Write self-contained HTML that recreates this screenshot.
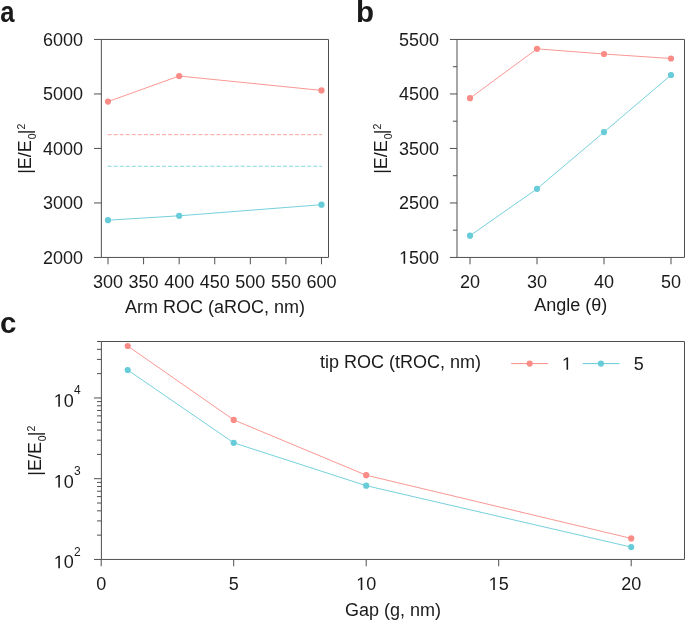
<!DOCTYPE html>
<html><head><meta charset="utf-8"><style>
html,body{margin:0;padding:0;background:#fff;}
body{width:685px;height:620px;overflow:hidden;}
svg{display:block;will-change:transform;font-family:"Liberation Sans",sans-serif;fill:#1a1a1a;}
text{fill:#1a1a1a;}
</style></head><body>
<svg width="685" height="620" viewBox="0 0 685 620">
<rect width="685" height="620" fill="#fff"/>
<line x1="94.00" y1="257.45" x2="101.35" y2="257.45" stroke="#4f4f4f" stroke-width="1" />
<text x="83.10" y="263.75" text-anchor="end" font-size="18">2000</text>
<line x1="94.00" y1="202.95" x2="101.35" y2="202.95" stroke="#4f4f4f" stroke-width="1" />
<text x="83.10" y="209.25" text-anchor="end" font-size="18">3000</text>
<line x1="94.00" y1="148.45" x2="101.35" y2="148.45" stroke="#4f4f4f" stroke-width="1" />
<text x="83.10" y="154.75" text-anchor="end" font-size="18">4000</text>
<line x1="94.00" y1="93.95" x2="101.35" y2="93.95" stroke="#4f4f4f" stroke-width="1" />
<text x="83.10" y="100.25" text-anchor="end" font-size="18">5000</text>
<line x1="94.00" y1="39.45" x2="101.35" y2="39.45" stroke="#4f4f4f" stroke-width="1" />
<text x="83.10" y="45.75" text-anchor="end" font-size="18">6000</text>
<line x1="108.00" y1="257.45" x2="108.00" y2="264.25" stroke="#4f4f4f" stroke-width="1" />
<text x="108.00" y="287.85" text-anchor="middle" font-size="18" font-weight="normal" >300</text>
<line x1="143.58" y1="257.45" x2="143.58" y2="264.25" stroke="#4f4f4f" stroke-width="1" />
<text x="143.58" y="287.85" text-anchor="middle" font-size="18" font-weight="normal" >350</text>
<line x1="179.16" y1="257.45" x2="179.16" y2="264.25" stroke="#4f4f4f" stroke-width="1" />
<text x="179.16" y="287.85" text-anchor="middle" font-size="18" font-weight="normal" >400</text>
<line x1="214.74" y1="257.45" x2="214.74" y2="264.25" stroke="#4f4f4f" stroke-width="1" />
<text x="214.74" y="287.85" text-anchor="middle" font-size="18" font-weight="normal" >450</text>
<line x1="250.32" y1="257.45" x2="250.32" y2="264.25" stroke="#4f4f4f" stroke-width="1" />
<text x="250.32" y="287.85" text-anchor="middle" font-size="18" font-weight="normal" >500</text>
<line x1="285.90" y1="257.45" x2="285.90" y2="264.25" stroke="#4f4f4f" stroke-width="1" />
<text x="285.90" y="287.85" text-anchor="middle" font-size="18" font-weight="normal" >550</text>
<line x1="321.48" y1="257.45" x2="321.48" y2="264.25" stroke="#4f4f4f" stroke-width="1" />
<text x="321.48" y="287.85" text-anchor="middle" font-size="18" font-weight="normal" >600</text>
<path d="M101.35,39.45H328.50V257.45H101.35Z" fill="none" stroke="#4f4f4f" stroke-width="1"/>
<text x="214.93" y="312.90" text-anchor="middle" font-size="18" font-weight="normal" >Arm ROC (aROC, nm)</text>
<text transform="translate(31.10,148.80) rotate(-90)" text-anchor="middle" font-size="18">|E/E<tspan font-size="10.5" dy="5.0" dx="0.9">0</tspan><tspan dy="-5.0" dx="-0.9">|</tspan><tspan font-size="10.5" dy="-6.2">2</tspan></text>
<line x1="107.60" y1="134.66" x2="321.90" y2="134.66" stroke="#FA8C87" stroke-width="1" stroke-dasharray="3.95 2.1" stroke-opacity="0.8"/>
<line x1="107.60" y1="166.27" x2="321.90" y2="166.27" stroke="#67CBD8" stroke-width="1" stroke-dasharray="3.95 2.1" stroke-opacity="0.8"/>
<polyline points="108.00,101.60 179.16,76.00 321.48,90.40" fill="none" stroke="#FA8C87" stroke-width="1.0" stroke-opacity="0.9"/>
<circle cx="108.00" cy="101.60" r="3.1" fill="#FA8C87"/>
<circle cx="179.16" cy="76.00" r="3.1" fill="#FA8C87"/>
<circle cx="321.48" cy="90.40" r="3.1" fill="#FA8C87"/>
<polyline points="108.00,220.20 179.16,215.80 321.48,204.70" fill="none" stroke="#67CBD8" stroke-width="1.0" stroke-opacity="0.9"/>
<circle cx="108.00" cy="220.20" r="3.1" fill="#67CBD8"/>
<circle cx="179.16" cy="215.80" r="3.1" fill="#67CBD8"/>
<circle cx="321.48" cy="204.70" r="3.1" fill="#67CBD8"/>
<text transform="translate(0.20,22.00) scale(0.87,1)" font-size="29.5" font-weight="bold">a</text>
<line x1="449.90" y1="257.45" x2="457.00" y2="257.45" stroke="#4f4f4f" stroke-width="1" />
<text x="439.10" y="263.75" text-anchor="end" font-size="18"> 500</text>
<path transform="translate(399.057,263.75) scale(0.008789,-0.008789)" d="M515 0V1237L197 1010V1180L530 1409H696V0Z" fill="#1a1a1a"/>
<line x1="449.90" y1="202.95" x2="457.00" y2="202.95" stroke="#4f4f4f" stroke-width="1" />
<text x="439.10" y="209.25" text-anchor="end" font-size="18">2500</text>
<line x1="449.90" y1="148.45" x2="457.00" y2="148.45" stroke="#4f4f4f" stroke-width="1" />
<text x="439.10" y="154.75" text-anchor="end" font-size="18">3500</text>
<line x1="449.90" y1="93.95" x2="457.00" y2="93.95" stroke="#4f4f4f" stroke-width="1" />
<text x="439.10" y="100.25" text-anchor="end" font-size="18">4500</text>
<line x1="449.90" y1="39.45" x2="457.00" y2="39.45" stroke="#4f4f4f" stroke-width="1" />
<text x="439.10" y="45.75" text-anchor="end" font-size="18">5500</text>
<line x1="452.90" y1="230.20" x2="457.00" y2="230.20" stroke="#4f4f4f" stroke-width="1" />
<line x1="452.90" y1="175.70" x2="457.00" y2="175.70" stroke="#4f4f4f" stroke-width="1" />
<line x1="452.90" y1="121.20" x2="457.00" y2="121.20" stroke="#4f4f4f" stroke-width="1" />
<line x1="452.90" y1="66.70" x2="457.00" y2="66.70" stroke="#4f4f4f" stroke-width="1" />
<line x1="470.00" y1="257.45" x2="470.00" y2="264.25" stroke="#4f4f4f" stroke-width="1" />
<text x="470.00" y="287.85" text-anchor="middle" font-size="18" font-weight="normal" >20</text>
<line x1="537.00" y1="257.45" x2="537.00" y2="264.25" stroke="#4f4f4f" stroke-width="1" />
<text x="537.00" y="287.85" text-anchor="middle" font-size="18" font-weight="normal" >30</text>
<line x1="604.00" y1="257.45" x2="604.00" y2="264.25" stroke="#4f4f4f" stroke-width="1" />
<text x="604.00" y="287.85" text-anchor="middle" font-size="18" font-weight="normal" >40</text>
<line x1="671.00" y1="257.45" x2="671.00" y2="264.25" stroke="#4f4f4f" stroke-width="1" />
<text x="671.00" y="287.85" text-anchor="middle" font-size="18" font-weight="normal" >50</text>
<path d="M457.00,39.45H684.50V257.45H457.00Z" fill="none" stroke="#4f4f4f" stroke-width="1"/>
<text x="570.75" y="310.50" text-anchor="middle" font-size="18" font-weight="normal" >Angle (θ)</text>
<text transform="translate(386.90,148.80) rotate(-90)" text-anchor="middle" font-size="18">|E/E<tspan font-size="10.5" dy="5.0" dx="0.9">0</tspan><tspan dy="-5.0" dx="-0.9">|</tspan><tspan font-size="10.5" dy="-6.2">2</tspan></text>
<polyline points="470.00,98.20 537.00,48.85 604.00,54.00 671.00,58.50" fill="none" stroke="#FA8C87" stroke-width="1.0" stroke-opacity="0.9"/>
<circle cx="470.00" cy="98.20" r="3.1" fill="#FA8C87"/>
<circle cx="537.00" cy="48.85" r="3.1" fill="#FA8C87"/>
<circle cx="604.00" cy="54.00" r="3.1" fill="#FA8C87"/>
<circle cx="671.00" cy="58.50" r="3.1" fill="#FA8C87"/>
<polyline points="470.00,235.70 537.00,188.85 604.00,132.10 671.00,75.00" fill="none" stroke="#67CBD8" stroke-width="1.0" stroke-opacity="0.9"/>
<circle cx="470.00" cy="235.70" r="3.1" fill="#67CBD8"/>
<circle cx="537.00" cy="188.85" r="3.1" fill="#67CBD8"/>
<circle cx="604.00" cy="132.10" r="3.1" fill="#67CBD8"/>
<circle cx="671.00" cy="75.00" r="3.1" fill="#67CBD8"/>
<text transform="translate(356.00,22.00) scale(1.0,1)" font-size="29.5" font-weight="bold">b</text>
<line x1="94.00" y1="559.45" x2="101.40" y2="559.45" stroke="#4f4f4f" stroke-width="1" />
<text x="73.80" y="568.25" text-anchor="end" font-size="18"> 0</text>
<path transform="translate(53.779,568.25) scale(0.008789,-0.008789)" d="M515 0V1237L197 1010V1180L530 1409H696V0Z" fill="#1a1a1a"/>
<text x="74.0" y="555.85" text-anchor="start" font-size="12">2</text>
<line x1="94.00" y1="478.70" x2="101.40" y2="478.70" stroke="#4f4f4f" stroke-width="1" />
<text x="73.80" y="487.50" text-anchor="end" font-size="18"> 0</text>
<path transform="translate(53.779,487.50) scale(0.008789,-0.008789)" d="M515 0V1237L197 1010V1180L530 1409H696V0Z" fill="#1a1a1a"/>
<text x="74.0" y="475.10" text-anchor="start" font-size="12">3</text>
<line x1="94.00" y1="397.94" x2="101.40" y2="397.94" stroke="#4f4f4f" stroke-width="1" />
<text x="73.80" y="406.74" text-anchor="end" font-size="18"> 0</text>
<path transform="translate(53.779,406.74) scale(0.008789,-0.008789)" d="M515 0V1237L197 1010V1180L530 1409H696V0Z" fill="#1a1a1a"/>
<text x="74.0" y="394.34" text-anchor="start" font-size="12">4</text>
<line x1="97.00" y1="535.14" x2="101.40" y2="535.14" stroke="#4f4f4f" stroke-width="1" />
<line x1="97.00" y1="520.92" x2="101.40" y2="520.92" stroke="#4f4f4f" stroke-width="1" />
<line x1="97.00" y1="510.83" x2="101.40" y2="510.83" stroke="#4f4f4f" stroke-width="1" />
<line x1="97.00" y1="503.01" x2="101.40" y2="503.01" stroke="#4f4f4f" stroke-width="1" />
<line x1="97.00" y1="496.61" x2="101.40" y2="496.61" stroke="#4f4f4f" stroke-width="1" />
<line x1="97.00" y1="491.21" x2="101.40" y2="491.21" stroke="#4f4f4f" stroke-width="1" />
<line x1="97.00" y1="486.52" x2="101.40" y2="486.52" stroke="#4f4f4f" stroke-width="1" />
<line x1="97.00" y1="482.39" x2="101.40" y2="482.39" stroke="#4f4f4f" stroke-width="1" />
<line x1="97.00" y1="454.39" x2="101.40" y2="454.39" stroke="#4f4f4f" stroke-width="1" />
<line x1="97.00" y1="440.17" x2="101.40" y2="440.17" stroke="#4f4f4f" stroke-width="1" />
<line x1="97.00" y1="430.08" x2="101.40" y2="430.08" stroke="#4f4f4f" stroke-width="1" />
<line x1="97.00" y1="422.25" x2="101.40" y2="422.25" stroke="#4f4f4f" stroke-width="1" />
<line x1="97.00" y1="415.86" x2="101.40" y2="415.86" stroke="#4f4f4f" stroke-width="1" />
<line x1="97.00" y1="410.45" x2="101.40" y2="410.45" stroke="#4f4f4f" stroke-width="1" />
<line x1="97.00" y1="405.77" x2="101.40" y2="405.77" stroke="#4f4f4f" stroke-width="1" />
<line x1="97.00" y1="401.64" x2="101.40" y2="401.64" stroke="#4f4f4f" stroke-width="1" />
<line x1="97.00" y1="373.63" x2="101.40" y2="373.63" stroke="#4f4f4f" stroke-width="1" />
<line x1="97.00" y1="359.41" x2="101.40" y2="359.41" stroke="#4f4f4f" stroke-width="1" />
<line x1="97.00" y1="349.33" x2="101.40" y2="349.33" stroke="#4f4f4f" stroke-width="1" />
<line x1="97.00" y1="341.50" x2="101.40" y2="341.50" stroke="#4f4f4f" stroke-width="1" />
<line x1="101.20" y1="559.45" x2="101.20" y2="566.25" stroke="#4f4f4f" stroke-width="1" />
<text x="101.20" y="589.95" text-anchor="middle" font-size="18">0</text>
<line x1="233.70" y1="559.45" x2="233.70" y2="566.25" stroke="#4f4f4f" stroke-width="1" />
<text x="233.70" y="589.95" text-anchor="middle" font-size="18">5</text>
<line x1="366.20" y1="559.45" x2="366.20" y2="566.25" stroke="#4f4f4f" stroke-width="1" />
<text x="366.20" y="589.95" text-anchor="middle" font-size="18"> 0</text>
<path transform="translate(356.189,589.95) scale(0.008789,-0.008789)" d="M515 0V1237L197 1010V1180L530 1409H696V0Z" fill="#1a1a1a"/>
<line x1="498.70" y1="559.45" x2="498.70" y2="566.25" stroke="#4f4f4f" stroke-width="1" />
<text x="498.70" y="589.95" text-anchor="middle" font-size="18"> 5</text>
<path transform="translate(488.689,589.95) scale(0.008789,-0.008789)" d="M515 0V1237L197 1010V1180L530 1409H696V0Z" fill="#1a1a1a"/>
<line x1="631.20" y1="559.45" x2="631.20" y2="566.25" stroke="#4f4f4f" stroke-width="1" />
<text x="631.20" y="589.95" text-anchor="middle" font-size="18">20</text>
<path d="M101.40,341.50H684.50V559.45H101.40Z" fill="none" stroke="#4f4f4f" stroke-width="1"/>
<text x="392.95" y="615.60" text-anchor="middle" font-size="18" font-weight="normal" >Gap (g, nm)</text>
<text transform="translate(41.10,450.70) rotate(-90)" text-anchor="middle" font-size="18">|E/E<tspan font-size="10.5" dy="5.0" dx="0.9">0</tspan><tspan dy="-5.0" dx="-0.9">|</tspan><tspan font-size="10.5" dy="-6.2">2</tspan></text>
<polyline points="127.70,346.00 233.70,419.90 366.20,475.20 631.20,538.40" fill="none" stroke="#FA8C87" stroke-width="1.0" stroke-opacity="0.9"/>
<circle cx="127.70" cy="346.00" r="3.1" fill="#FA8C87"/>
<circle cx="233.70" cy="419.90" r="3.1" fill="#FA8C87"/>
<circle cx="366.20" cy="475.20" r="3.1" fill="#FA8C87"/>
<circle cx="631.20" cy="538.40" r="3.1" fill="#FA8C87"/>
<polyline points="127.70,370.00 233.70,442.80 366.20,485.70 631.20,547.10" fill="none" stroke="#67CBD8" stroke-width="1.0" stroke-opacity="0.9"/>
<circle cx="127.70" cy="370.00" r="3.1" fill="#67CBD8"/>
<circle cx="233.70" cy="442.80" r="3.1" fill="#67CBD8"/>
<circle cx="366.20" cy="485.70" r="3.1" fill="#67CBD8"/>
<circle cx="631.20" cy="547.10" r="3.1" fill="#67CBD8"/>
<text transform="translate(0.00,333.30) scale(1.0,1)" font-size="29.5" font-weight="bold">c</text>
<text x="320.00" y="368.00" text-anchor="start" font-size="18" font-weight="normal" >tip ROC (tROC, nm)</text>
<line x1="511.10" y1="363.60" x2="548.10" y2="363.60" stroke="#FA8C87" stroke-width="1.0" />
<circle cx="529.7" cy="363.6" r="3.1" fill="#FA8C87"/>
<text x="562.00" y="369.80" text-anchor="start" font-size="18"> </text>
<path transform="translate(562.000,369.80) scale(0.008789,-0.008789)" d="M515 0V1237L197 1010V1180L530 1409H696V0Z" fill="#1a1a1a"/>
<line x1="582.70" y1="363.60" x2="619.50" y2="363.60" stroke="#67CBD8" stroke-width="1.0" />
<circle cx="600.9" cy="363.6" r="3.1" fill="#67CBD8"/>
<text x="633.80" y="369.80" text-anchor="start" font-size="18" font-weight="normal" >5</text>
</svg>
</body></html>
